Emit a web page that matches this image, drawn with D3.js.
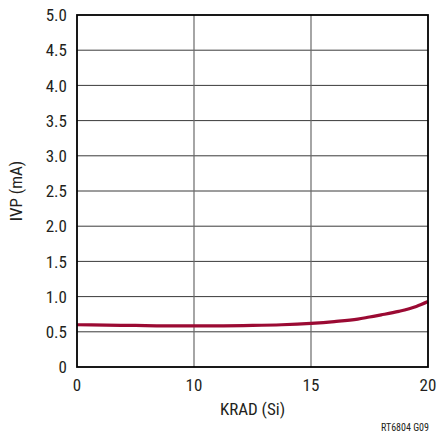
<!DOCTYPE html>
<html>
<head>
<meta charset="utf-8">
<script src="https://cdn.jsdelivr.net/npm/d3@7"></script>
<style>
  body { margin: 0; background: #fff; }
  text { font-family: 'Liberation Sans Narrow', 'Roboto Condensed', 'Liberation Sans', sans-serif; fill: #231f20; }
</style>
</head>
<body>
<div id="graph"></div>
<script>
'use strict';

let WIDTH = 438;
let HEIGHT = 436;
let M = { left: 77, right: 10, top: 15, bottom: 69 };

// x ticks are evenly spaced even though values are not
let X_TICKS = [0, 10, 15, 20];
let Y_TICKS = [0, 0.5, 1.0, 1.5, 2.0, 2.5, 3.0, 3.5, 4.0, 4.5, 5.0];

let krad = [0, 2.5, 5, 7.5, 10, 11.25, 12.5, 13.75, 15, 16, 17, 17.5, 18, 18.75, 19.5, 20];
let ivp = [0.60, 0.595, 0.59, 0.585, 0.585, 0.585, 0.59, 0.60, 0.62, 0.645, 0.68, 0.71, 0.74, 0.79, 0.86, 0.93];

let svg = d3.select('#graph')
    .append('svg')
    .attr('width', WIDTH)
    .attr('height', HEIGHT);

let x0 = M.left;
let x1 = WIDTH - M.right;
let step = (x1 - x0) / 3;

let xScale = d3.scaleLinear()
    .domain(X_TICKS)
    .range([x0, x0 + step, x0 + 2 * step, x1]);

let yScale = d3.scaleLinear()
    .domain([0, 5])
    .range([HEIGHT - M.bottom, M.top]);

// horizontal grid
svg.append('g')
    .selectAll('line')
    .data(Y_TICKS.slice(1, -1))
    .enter()
    .append('line')
    .attr('x1', x0)
    .attr('x2', x1)
    .attr('y1', d => yScale(d))
    .attr('y2', d => yScale(d))
    .attr('stroke', '#3a3a3a')
    .attr('stroke-width', 1);

// vertical grid
svg.append('g')
    .selectAll('line')
    .data(X_TICKS.slice(1, -1))
    .enter()
    .append('line')
    .attr('x1', d => xScale(d))
    .attr('x2', d => xScale(d))
    .attr('y1', yScale(0))
    .attr('y2', yScale(5))
    .attr('stroke', '#6a6a6a')
    .attr('stroke-width', 1.2);

// curve
let line = d3.line()
    .x((d, i) => xScale(krad[i]))
    .y(d => yScale(d))
    .curve(d3.curveMonotoneX);

svg.append('path')
    .datum(ivp)
    .attr('d', line)
    .attr('fill', 'none')
    .attr('stroke', '#9b0a33')
    .attr('stroke-width', 3.2);

// frame
svg.append('rect')
    .attr('x', x0)
    .attr('y', M.top)
    .attr('width', x1 - x0)
    .attr('height', yScale(0) - M.top)
    .attr('fill', 'none')
    .attr('stroke', '#000')
    .attr('stroke-width', 1.8);

// tick labels
svg.append('g')
    .selectAll('text')
    .data(Y_TICKS)
    .enter()
    .append('text')
    .attr('x', x0 - 10)
    .attr('y', d => yScale(d))
    .attr('dy', '0.36em')
    .attr('text-anchor', 'end')
    .style('font-size', '17px')
    .text(d => d === 0 ? '0' : d.toFixed(1));

svg.append('g')
    .selectAll('text')
    .data(X_TICKS)
    .enter()
    .append('text')
    .attr('x', d => xScale(d))
    .attr('y', yScale(0) + 24)
    .attr('text-anchor', 'middle')
    .style('font-size', '17px')
    .text(d => d);

// axis titles
svg.append('text')
    .attr('x', (x0 + x1) / 2)
    .attr('y', HEIGHT - 21)
    .attr('text-anchor', 'middle')
    .style('font-size', '17px')
    .text('KRAD (Si)');

svg.append('text')
    .attr('transform', 'translate(22,' + (yScale(2.5)) + ') rotate(-90)')
    .attr('text-anchor', 'middle')
    .style('font-size', '17px')
    .text('IVP (mA)');

svg.append('text')
    .attr('x', x1 + 1)
    .attr('y', HEIGHT - 5)
    .attr('text-anchor', 'end')
    .style('font-size', '10px')
    .text('RT6804 G09');
</script>
</body>
</html>
